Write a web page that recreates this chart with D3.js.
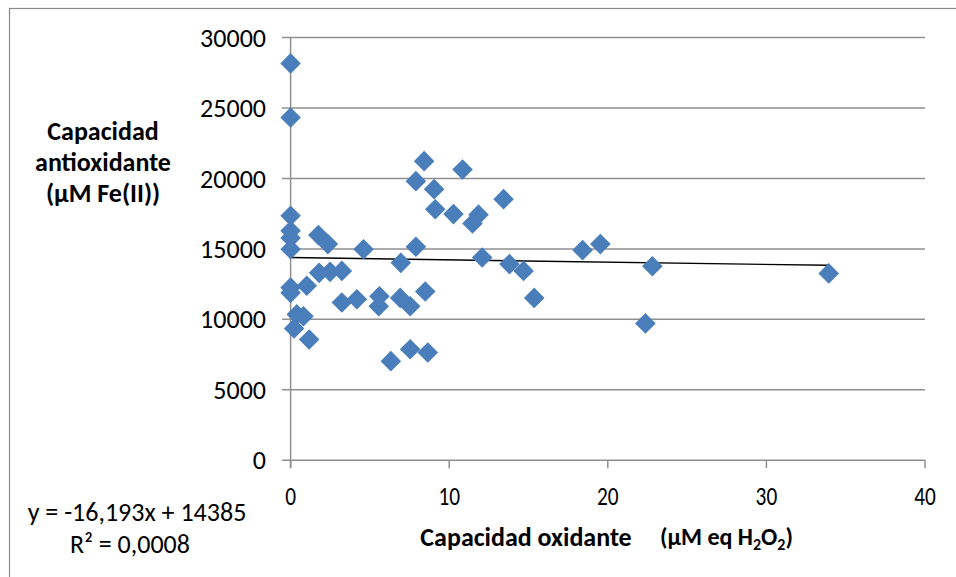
<!DOCTYPE html>
<html>
<head>
<meta charset="utf-8">
<script src="https://cdn.jsdelivr.net/npm/d3@7"></script>
<style>
  html, body { margin: 0; padding: 0; background: #fff; }
  svg { display: block; }
  text { font-family: Carlito, Calibri, "Open Sans", sans-serif; fill: #000; }
</style>
</head>
<body>
<svg id="chart" width="956" height="577"></svg>
<script>
// Oxidative capacity (µM eq H2O2) for each sample
const oxidante = [
  0, 0, 0, 0, 0, 0, 0, 0, 0.22, 0.39,
  0.81, 1.02, 1.17, 1.75, 1.8, 2.35, 2.49, 3.23, 3.23, 4.18,
  4.6, 5.56, 5.6, 6.32, 6.91, 6.95, 7.54, 7.54, 7.9, 7.9,
  8.42, 8.49, 8.65, 9.05, 9.12, 10.27, 10.84, 11.47, 11.85, 12.08,
  13.43, 13.8, 14.69, 15.36, 18.41, 19.53, 22.37, 22.81, 33.93
];
// Antioxidant capacity (µM Fe(II)) for the same samples
const antioxidante = [
  28170, 24330, 17350, 16280, 15780, 14980, 12260, 11880, 9350, 10350,
  10220, 12380, 8570, 15980, 13300, 15340, 13370, 13440, 11200, 11430,
  14980, 10930, 11640, 7030, 11520, 14010, 10930, 7880, 15150, 19810,
  21230, 11980, 7650, 19240, 17820, 17470, 20640, 16810, 17430, 14390,
  18530, 13920, 13440, 11520, 14910, 15340, 9710, 13770, 13260
];
const xTicks = [0, 10, 20, 30, 40];
const yTicks = [0, 5000, 10000, 15000, 20000, 25000, 30000];
// Linear trend: y = -16,193x + 14385
const slope = -16.193, intercept = 14385;
const eqLabel = "y = -16,193x + 14385";
const r2Label = "R² = 0,0008";

const svg = d3.select("#chart");
const gridColor = "#8f8f8f";

// Outer chart frame
svg.append("rect")
  .attr("x", 9.5).attr("y", 8.5)
  .attr("width", 1000).attr("height", 700)
  .attr("fill", "none").attr("stroke", "#8a8a8a").attr("stroke-width", 1.2);

const x = d3.scaleLinear().domain([0, 40]).range([290.6, 925]);
const y = d3.scaleLinear().domain([0, 30000]).range([460.2, 37.6]);

// Horizontal gridlines (extend left as tick marks)
svg.append("g").selectAll("line").data(yTicks).join("line")
  .attr("x1", 282).attr("x2", x(40))
  .attr("y1", d => y(d)).attr("y2", d => y(d))
  .attr("stroke", gridColor).attr("stroke-width", 1.5);

// Vertical axis line
svg.append("line")
  .attr("x1", x(0)).attr("x2", x(0))
  .attr("y1", y(30000)).attr("y2", y(0) + 8)
  .attr("stroke", gridColor).attr("stroke-width", 1.5);

// X tick marks below the axis
svg.append("g").selectAll("line").data(xTicks).join("line")
  .attr("x1", d => x(d)).attr("x2", d => x(d))
  .attr("y1", y(0)).attr("y2", y(0) + 8)
  .attr("stroke", gridColor).attr("stroke-width", 1.5);

// Y tick labels
svg.append("g").selectAll("text").data(yTicks).join("text")
  .attr("x", 266).attr("y", d => y(d))
  .attr("dy", "0.35em")
  .attr("text-anchor", "end")
  .style("font-size", "26px")
  .text(d => d);

// X tick labels (condensed)
svg.append("g").selectAll("text").data(xTicks).join("text")
  .attr("transform", d => `translate(${x(d)},496) scale(0.82,1)`)
  .attr("dy", "0.35em")
  .attr("text-anchor", "middle")
  .style("font-size", "26px")
  .text(d => d);

// Trend line across the data range
const xMax = d3.max(oxidante);
svg.append("path")
  .datum([0, xMax])
  .attr("d", d3.line().x(d => x(d)).y(d => y(slope * d + intercept)))
  .attr("fill", "none").attr("stroke", "#000").attr("stroke-width", 1.4);

// Diamond markers
const diamond = "M0,-10.3L10.3,0L0,10.3L-10.3,0Z";
svg.append("g").selectAll("path").data(oxidante.map((v, i) => [v, antioxidante[i]])).join("path")
  .attr("d", diamond)
  .attr("transform", d => `translate(${x(d[0])},${y(d[1])})`)
  .attr("fill", "#4a7ebb");

// Y axis title
const yTitle = ["Capacidad", "antioxidante", "(µM Fe(II))"];
svg.append("g").selectAll("text").data(yTitle).join("text")
  .attr("x", 103).attr("y", (d, i) => 131 + i * 31)
  .attr("dy", "0.35em")
  .attr("text-anchor", "middle")
  .style("font-size", "26px").style("font-weight", "bold")
  .text(d => d);

// X axis title
svg.append("text")
  .attr("x", 526).attr("y", 537).attr("dy", "0.35em")
  .attr("text-anchor", "middle")
  .style("font-size", "26px").style("font-weight", "bold")
  .text("Capacidad oxidante");

const unit = svg.append("text")
  .attr("x", 660).attr("y", 537).attr("dy", "0.35em")
  .style("font-size", "24px").style("font-weight", "bold");
unit.append("tspan").text("(µM eq H");
unit.append("tspan").attr("dy", 5).style("font-size", "16px").text("2");
unit.append("tspan").attr("dy", -5).text("O");
unit.append("tspan").attr("dy", 5).style("font-size", "16px").text("2");
unit.append("tspan").attr("dy", -5).text(")");

// Trend equation and R²
svg.append("text")
  .attr("x", 137).attr("y", 512).attr("dy", "0.35em")
  .attr("text-anchor", "middle")
  .style("font-size", "26px")
  .text(eqLabel);

svg.append("text")
  .attr("x", 130).attr("y", 544).attr("dy", "0.35em")
  .attr("text-anchor", "middle")
  .style("font-size", "26px")
  .text(r2Label);
</script>
</body>
</html>
